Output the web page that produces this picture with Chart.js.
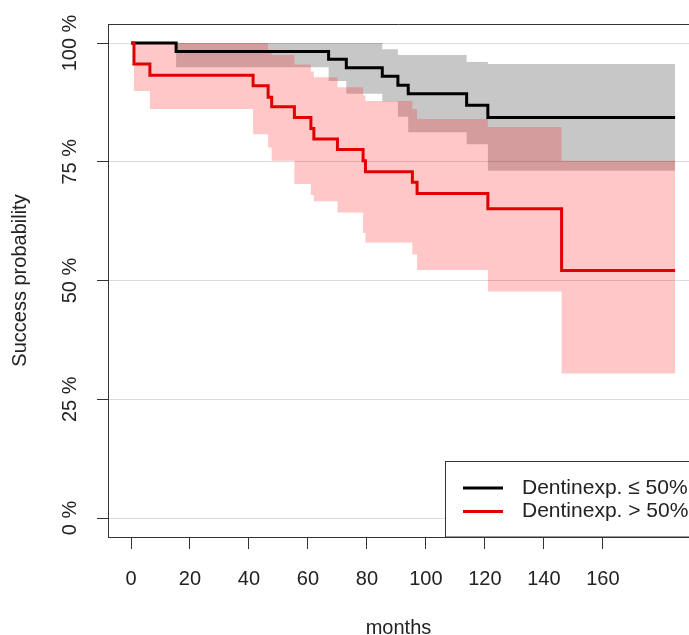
<!DOCTYPE html>
<html>
<head>
<meta charset="utf-8">
<script src="https://cdn.jsdelivr.net/npm/chart.js@4.4.1/dist/chart.umd.min.js"></script>
<style>
  html, body { margin: 0; padding: 0; background: #fff; overflow: hidden; }
  #km { display: block; }
</style>
</head>
<body>
<canvas id="km" width="689" height="635"></canvas>
<script>
// Kaplan-Meier estimates (months, survival, 95% band)
var groupLabels = ['Dentinexp. \u2264 50%', 'Dentinexp. > 50%'];

var blackMonths = [0, 15.3, 67, 73, 85.2, 90.5, 94, 113.8, 121, 184.5];
var blackSurv   = [1, 0.982, 0.966, 0.948, 0.930, 0.911, 0.893, 0.869, 0.843, 0.843];
var blackUpper  = [1, 1, 1, 1, 0.987, 0.975, 0.975, 0.960, 0.956, 0.956];
var blackLower  = [1, 0.949, 0.920, 0.893, 0.877, 0.845, 0.812, 0.787, 0.731, 0.731];

var redMonths = [0, 1, 6.4, 41.4, 46.5, 47.7, 55.4, 61, 62, 70, 78.7, 79.5, 95.4, 97, 121, 146, 184.5];
var redSurv   = [1, 0.956, 0.932, 0.910, 0.886, 0.866, 0.843, 0.820, 0.798, 0.776, 0.752, 0.729, 0.707, 0.683, 0.651, 0.521, 0.521];
var redUpper  = [1, 1, 1, 1, 0.985, 0.975, 0.955, 0.940, 0.928, 0.907, 0.890, 0.878, 0.861, 0.840, 0.823, 0.752, 0.752];
var redLower  = [1, 0.899, 0.861, 0.808, 0.780, 0.752, 0.703, 0.680, 0.667, 0.643, 0.600, 0.580, 0.555, 0.522, 0.477, 0.304, 0.304];

var xTicks = [0, 20, 40, 60, 80, 100, 120, 140, 160];
var yTicks = [0, 0.25, 0.5, 0.75, 1];

var fontFamily = '"Liberation Sans", Arial, Helvetica, sans-serif';
var redColor = '#e10000';
var blackColor = '#000000';

var toPoints = function(xs, ys) {
    return xs.map(function(x, i) { return { x: x, y: ys[i] }; });
};

// box top edge + legend inside the plot (R style)
var boxLegend = {
    id: 'boxLegend',
    afterDraw: function(chart) {
        var ctx = chart.ctx;
        var area = chart.chartArea;
        ctx.save();
        ctx.strokeStyle = '#333';
        ctx.lineWidth = 1;
        ctx.beginPath();
        ctx.moveTo(area.left, Math.round(area.top) + 0.5);
        ctx.lineTo(area.right, Math.round(area.top) + 0.5);
        ctx.stroke();

        var left = 445.5, top = 461.5;
        ctx.fillStyle = '#fff';
        ctx.fillRect(left, top, area.right - left + 5, area.bottom - top);
        ctx.strokeRect(left, top, area.right - left + 5, area.bottom - top);

        var items = [chart.data.datasets[1], chart.data.datasets[0]];
        ctx.font = '21px ' + fontFamily;
        ctx.textBaseline = 'middle';
        ctx.textAlign = 'left';
        items.forEach(function(ds, i) {
            var y = 488 + i * 23.5;
            ctx.strokeStyle = ds.borderColor;
            ctx.lineWidth = 3;
            ctx.beginPath();
            ctx.moveTo(463, y);
            ctx.lineTo(503, y);
            ctx.stroke();
            ctx.fillStyle = '#222';
            ctx.fillText(ds.label, 522, y);
        });
        ctx.restore();
    }
};

var ctx = document.getElementById('km').getContext('2d');
var kmChart = new Chart(ctx, {
    type: 'line',
    data: {
        datasets: [{
            label: groupLabels[1],
            data: toPoints(redMonths, redSurv),
            borderColor: redColor,
            borderWidth: 3,
            stepped: 'before',
            pointRadius: 0,
            fill: false
        }, {
            label: groupLabels[0],
            data: toPoints(blackMonths, blackSurv),
            borderColor: blackColor,
            borderWidth: 3,
            stepped: 'before',
            pointRadius: 0,
            fill: false
        }, {
            label: 'red upper',
            data: toPoints(redMonths, redUpper),
            borderColor: 'rgba(0,0,0,0)',
            borderWidth: 0,
            backgroundColor: 'rgba(255,0,0,0.22)',
            stepped: 'before',
            pointRadius: 0,
            fill: '+1'
        }, {
            label: 'red lower',
            data: toPoints(redMonths, redLower),
            borderColor: 'rgba(0,0,0,0)',
            borderWidth: 0,
            stepped: 'before',
            pointRadius: 0,
            fill: false
        }, {
            label: 'black upper',
            data: toPoints(blackMonths, blackUpper),
            borderColor: 'rgba(0,0,0,0)',
            borderWidth: 0,
            backgroundColor: 'rgba(0,0,0,0.22)',
            stepped: 'before',
            pointRadius: 0,
            fill: '+1'
        }, {
            label: 'black lower',
            data: toPoints(blackMonths, blackLower),
            borderColor: 'rgba(0,0,0,0)',
            borderWidth: 0,
            stepped: 'before',
            pointRadius: 0,
            fill: false
        }]
    },
    options: {
        responsive: false,
        animation: false,
        layout: { padding: { top: 24, left: 0, right: 0, bottom: 0 } },
        plugins: {
            legend: { display: false },
            tooltip: { enabled: false }
        },
        scales: {
            x: {
                type: 'linear',
                min: -7.8,
                max: 189.2,
                afterBuildTicks: function(scale) {
                    scale.ticks = xTicks.map(function(v) { return { value: v }; });
                },
                afterFit: function(scale) {
                    scale.height = 98;
                    scale.paddingLeft = 0;
                    scale.paddingRight = 0;
                },
                grid: { drawOnChartArea: false, drawTicks: true, tickLength: 12, tickColor: '#333' },
                border: { display: true, color: '#333', width: 1 },
                ticks: {
                    autoSkip: false, maxRotation: 0, padding: 18,
                    color: '#222', font: { size: 20, family: fontFamily }
                },
                title: {
                    display: true, text: 'months', color: '#222',
                    font: { size: 20, family: fontFamily, lineHeight: 0.7 },
                    padding: { top: 0, bottom: 0 }
                }
            },
            y: {
                min: -0.04,
                max: 1.04,
                afterBuildTicks: function(scale) {
                    scale.ticks = yTicks.map(function(v) { return { value: v }; });
                },
                afterFit: function(scale) {
                    scale.width = 108;
                    scale.paddingTop = 0;
                    scale.paddingBottom = 0;
                },
                grid: { color: '#dcdcdc', lineWidth: 1, drawTicks: true, tickLength: 11, tickColor: '#333' },
                border: { display: true, color: '#333', width: 1 },
                ticks: {
                    minRotation: 90, maxRotation: 90, crossAlign: 'center', padding: -2,
                    color: '#222', font: { size: 20, family: fontFamily },
                    callback: function(v) { return Math.round(v * 100) + ' %'; }
                },
                title: {
                    display: true, text: 'Success probability', color: '#222',
                    font: { size: 20, family: fontFamily },
                    padding: { top: 8, bottom: 0 }
                }
            }
        }
    },
    plugins: [boxLegend]
});
</script>
</body>
</html>
